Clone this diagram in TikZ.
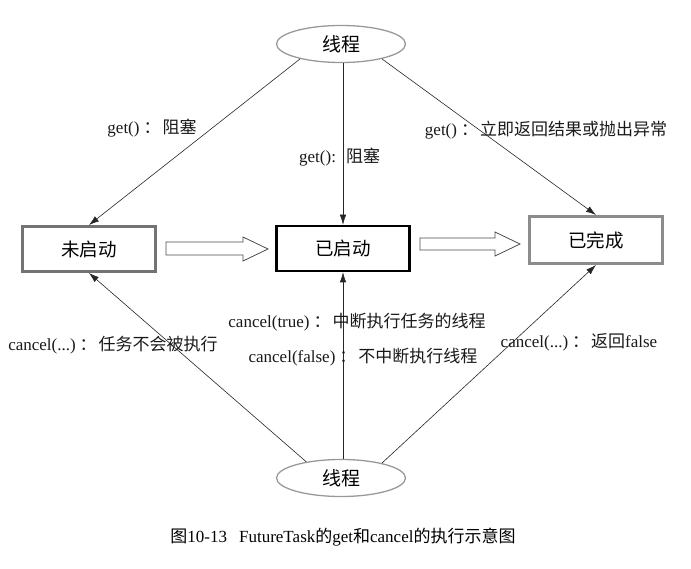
\documentclass[tikz,border=0pt]{standalone}
\usepackage{fontspec}
\setmainfont{Liberation Serif}
\newfontfamily\cjk{Noto Sans CJK SC}
\usetikzlibrary{arrows.meta,calc,shapes.geometric}
\newcommand{\zh}[1]{{\cjk #1}}
\newcommand{\cc}{\hspace{4pt}\zh{：}\hspace{2pt}}
\begin{document}
\begin{tikzpicture}[x=1pt,y=-1pt,
  lab/.style={inner sep=0pt, text=black!90, font=\fontsize{17}{19}\selectfont},
  conn/.style={draw=black!85, line width=0.6pt, -{Latex[length=10pt,width=6.5pt]}},
  ell/.style={ellipse, draw=black!40, line width=1.3pt, minimum width=129pt, minimum height=37pt, inner sep=0pt, font=\fontsize{19}{21}\selectfont},
  statebox/.style={rectangle, minimum width=133pt, minimum height=45pt, inner sep=0pt, font=\fontsize{18.5}{21}\selectfont},
  hollow/.style={draw=black!70, line width=0.8pt, fill=white}
]
\useasboundingbox (0,0) rectangle (691,569);

\node[ell] (top) at (341,44) {\zh{线程}};
\node[ell] (bot) at (341,478) {\zh{线程}};

\node[statebox, draw=black!55, line width=3pt] (nq) at (89,249) {\zh{未启动}};
\node[statebox, draw=black, line width=2.6pt] (ys) at (343,248.5) {\zh{已启动}};
\node[statebox, draw=black!45, line width=3pt, minimum height=47pt] (yw) at (596,240) {\zh{已完成}};

% hollow block arrows
\draw[hollow] (166,242) -- (243,242) -- (243,237) -- (268,249) -- (243,261) -- (243,255) -- (166,255) -- cycle;
\draw[hollow] (420,238) -- (495,238) -- (495,232) -- (520,244) -- (495,256) -- (495,250) -- (420,250) -- cycle;

% get connectors
\draw[conn] (top.200) -- (nq.north);
\draw[conn] (top.south -| ys.north) -- (ys.north);
\draw[conn] (top.340) -- (yw.north);

% cancel connectors
\draw[conn] (bot.155) -- (nq.south);
\draw[conn] (bot.north -| ys.south) -- (ys.south);
\draw[conn] (bot.20) -- (yw.south);

% labels
\node[lab] (l1) at (152,128) {get()\cc\zh{阻塞}};
\node[lab] (l2) at (343,157) {\llap{get():\hspace{7pt}}\rlap{\hspace{3pt}\zh{阻塞}}};
\node[lab] (l3) at (546,130) {get()\cc\zh{立即返回结果或抛出异常}};
\node[lab] (l4) at (113,345) {cancel(...)\cc\zh{任务不会被执行}};
\node[lab] (l5) at (357,322) {cancel(true)\cc\zh{中断执行任务的线程}};
\node[lab] (l6) at (363,357) {cancel(false)\cc\zh{不中断执行线程}};
\node[lab] (l7) at (579,342) {cancel(...)\cc\zh{返回}false};

\node[inner sep=0pt, font=\fontsize{17}{19}\selectfont] (cap) at (343,537) {\zh{图}10-13\hspace{12pt}FutureTask\zh{的}get\zh{和}cancel\zh{的执行示意图}};
\end{tikzpicture}
\end{document}
